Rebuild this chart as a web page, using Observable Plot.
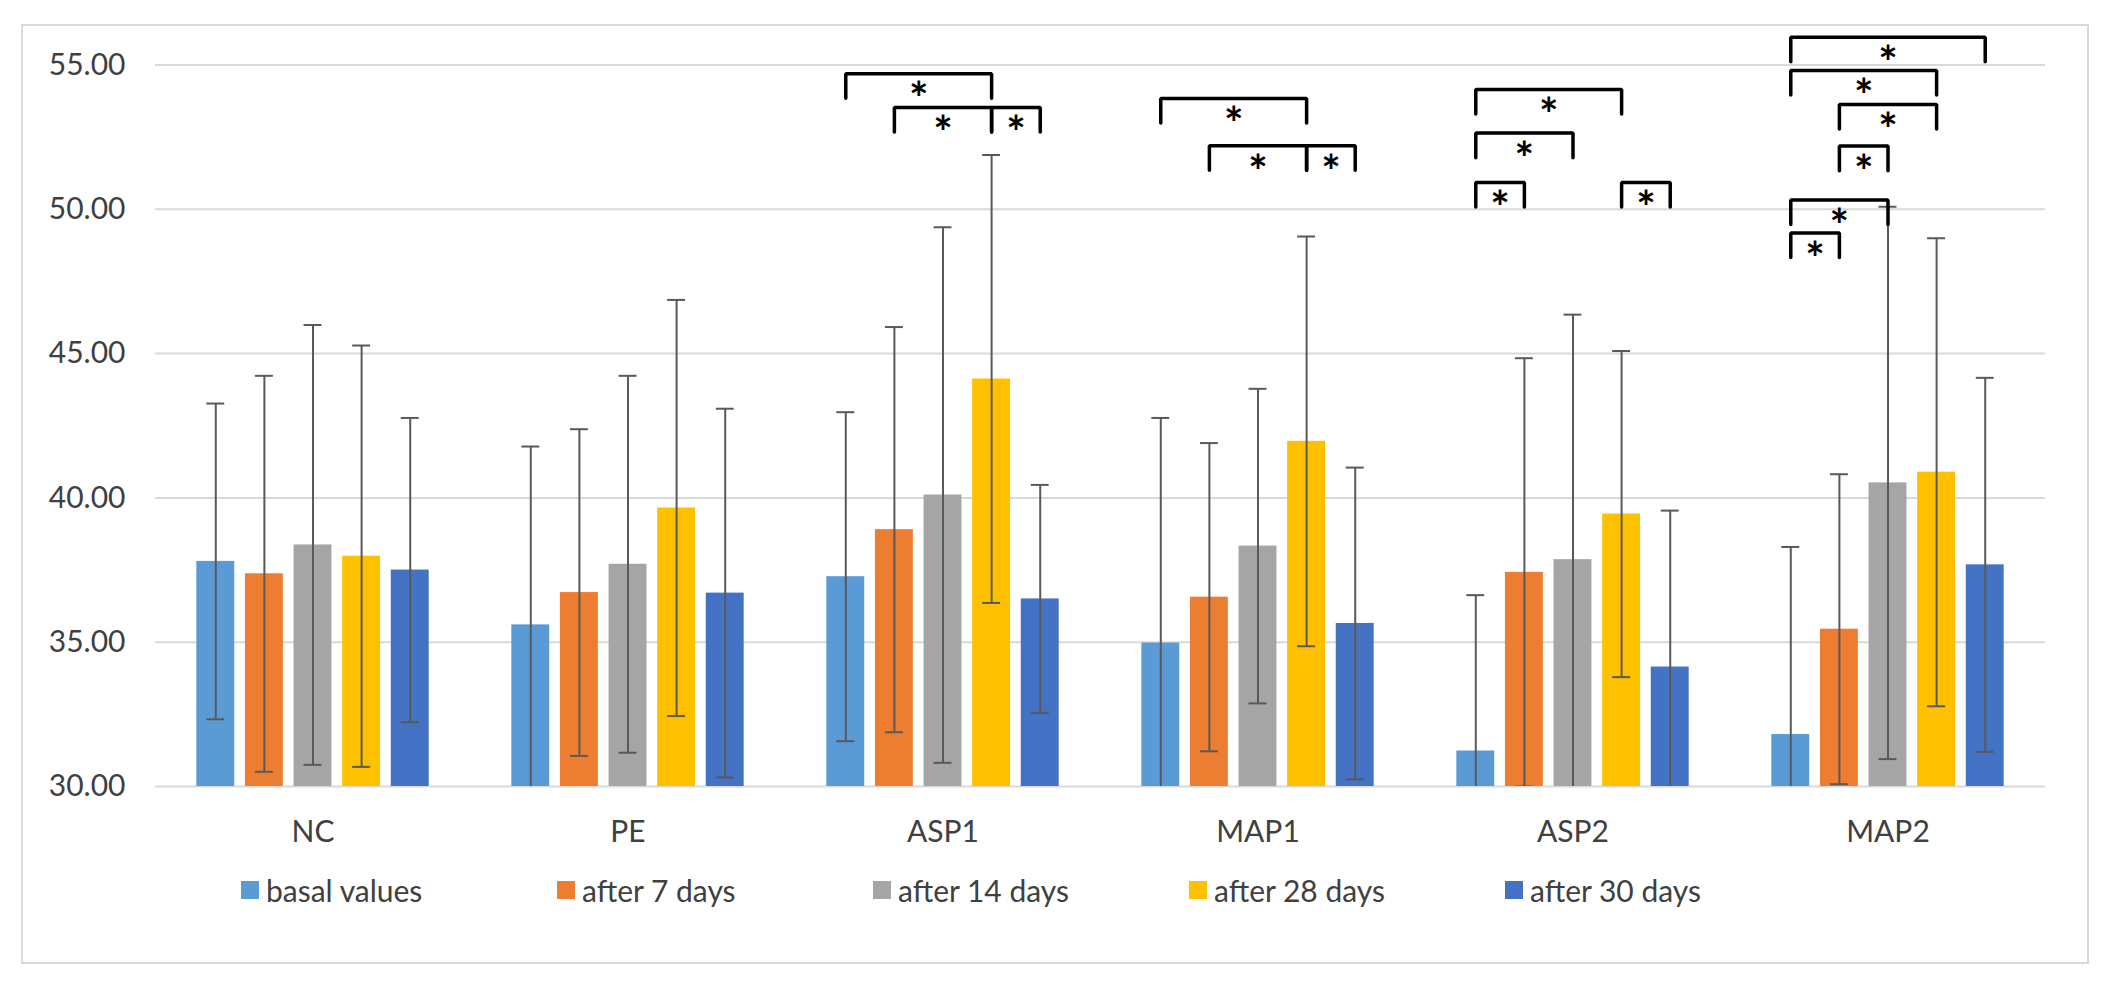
<!DOCTYPE html>
<html>
<head>
<meta charset="utf-8">
<script src="https://cdn.jsdelivr.net/npm/d3@7"></script>
<script src="https://cdn.jsdelivr.net/npm/@observablehq/plot@0.6"></script>
<style>
  html, body { margin: 0; padding: 0; background: #fff; }
  #wrap { position: relative; width: 2111px; height: 981px; overflow: hidden; font-family: Lato, "Open Sans", sans-serif; }
  #frame { position: absolute; left: 21px; top: 24px; width: 2068px; height: 940px; box-sizing: border-box; border: 2px solid #d9d9d9; }
  #chart { position: absolute; left: 0; top: 0; }
  #legend { position: absolute; left: 241px; top: 872px; display: flex; }
  .item { width: 316px; display: flex; align-items: center; font-size: 30px; line-height: 36px; color: #404040; white-space: nowrap; }
  .sw { width: 18px; height: 18px; margin-right: 7px; flex: none; }
</style>
</head>
<body>
<div id="wrap">
  <div id="frame"></div>
  <div id="chart"></div>
  <div id="legend"></div>
</div>
<script>
// ---- data ----
const groups = ["NC", "PE", "ASP1", "MAP1", "ASP2", "MAP2"];
const series = ["basal values", "after 7 days", "after 14 days", "after 28 days", "after 30 days"];
const colors = ["#5B9BD5", "#ED7D31", "#A5A5A5", "#FFC000", "#4472C4"];

const meanBasal = [37.80, 35.60, 37.27, 34.97, 31.23, 31.80];
const mean7     = [37.37, 36.72, 38.90, 36.56, 37.42, 35.45];
const mean14    = [38.37, 37.70, 40.10, 38.33, 37.86, 40.52];
const mean28    = [37.98, 39.65, 44.12, 41.96, 39.44, 40.89];
const mean30    = [37.50, 36.70, 36.50, 35.65, 34.14, 37.68];

const sdBasal = [5.47, 6.18, 5.70, 7.80, 5.40, 6.50];
const sd7     = [6.86, 5.66, 7.02, 5.34, 7.42, 5.37];
const sd14    = [7.62, 6.53, 9.28, 5.45, 8.49, 9.57];
const sd28    = [7.30, 7.21, 7.76, 7.10, 5.65, 8.11];
const sd30    = [5.27, 6.39, 3.95, 5.40, 5.42, 6.48];

const yTicks = [30, 35, 40, 45, 50, 55];

// significance brackets: group, from series, to series, level (y value of the bar)
const bracketGroup = ["ASP1", "ASP1", "ASP1", "MAP1", "MAP1", "MAP1", "ASP2", "ASP2", "ASP2", "ASP2",
                      "MAP2", "MAP2", "MAP2", "MAP2", "MAP2", "MAP2"];
const bracketFrom  = ["basal values", "after 7 days", "after 28 days",
                      "basal values", "after 7 days", "after 28 days",
                      "basal values", "basal values", "basal values", "after 28 days",
                      "basal values", "basal values", "after 7 days", "after 7 days", "basal values", "basal values"];
const bracketTo    = ["after 28 days", "after 28 days", "after 30 days",
                      "after 28 days", "after 28 days", "after 30 days",
                      "after 28 days", "after 14 days", "after 7 days", "after 30 days",
                      "after 30 days", "after 28 days", "after 28 days", "after 14 days", "after 14 days", "after 7 days"];
const bracketLevel = [54.70, 53.53, 53.53,
                      53.84, 52.20, 52.20,
                      54.15, 52.64, 50.93, 50.93,
                      55.96, 54.81, 53.63, 52.19, 50.32, 49.18];

// ---- build tables ----
const means = [meanBasal, mean7, mean14, mean28, mean30];
const sds = [sdBasal, sd7, sd14, sd28, sd30];
const rows = [];
groups.forEach((g, gi) => series.forEach((s, si) =>
  rows.push({group: g, series: s, mean: means[si][gi], sd: sds[si][gi]})));

const W = 2111, H = 860, ML = 155, MR = 66, MT = 64.5, MB = 74;
const PI = 0.22, PO = 0.85;
const step = (W - ML - MR) / groups.length / (series.length - PI + 2 * PO);
const LEG = 0.85;

const brackets = bracketGroup.map((g, i) => ({
  id: i, group: g, from: bracketFrom[i], to: bracketTo[i], level: bracketLevel[i],
  span: series.indexOf(bracketTo[i]) - series.indexOf(bracketFrom[i])
}));
const bracketPts = brackets.flatMap(b => [
  {id: b.id, group: b.group, series: b.from, y: b.level - LEG},
  {id: b.id, group: b.group, series: b.from, y: b.level},
  {id: b.id, group: b.group, series: b.to, y: b.level},
  {id: b.id, group: b.group, series: b.to, y: b.level - LEG}
]);
const asterisks = [1, 2, 3, 4].map(k => Plot.text(brackets.filter(b => b.span === k), {
  fx: "group", x: "from", y: "level", text: () => "*", dx: k * step / 2, dy: 27,
  fontSize: 46, fontWeight: "bold", fill: "#000", fontFamily: "Lato, sans-serif"
}));

const chart = Plot.plot({
  width: W, height: H,
  marginLeft: ML, marginRight: MR, marginTop: MT, marginBottom: MB,
  style: {fontFamily: "Lato, 'Open Sans', sans-serif", fontSize: "30px", color: "#404040", background: "transparent", overflow: "visible"},
  fx: {domain: groups, padding: 0, axis: "bottom", tickSize: 0, tickPadding: 34, label: null},
  x: {domain: series, paddingInner: PI, paddingOuter: PO, round: false, axis: null},
  y: {domain: [30, 55], ticks: yTicks, tickFormat: d3.format(".2f"), tickSize: 0, tickPadding: 30, label: null},
  color: {domain: series, range: colors},
  marks: [
    Plot.ruleY(yTicks, {stroke: "#d9d9d9", strokeWidth: 2}),
    Plot.barY(rows, {fx: "group", x: "series", y1: 30, y2: "mean", fill: "series"}),
    Plot.ruleX(rows, {fx: "group", x: "series", y1: d => d.mean - d.sd, y2: d => d.mean + d.sd,
      stroke: "#595959", strokeWidth: 2, clip: true}),
    Plot.tickY(rows, {fx: "group", x: "series", y: d => d.mean + d.sd, stroke: "#595959", strokeWidth: 2,
      insetLeft: 10, insetRight: 10, clip: true}),
    Plot.tickY(rows, {fx: "group", x: "series", y: d => d.mean - d.sd, stroke: "#595959", strokeWidth: 2,
      insetLeft: 10, insetRight: 10, clip: true}),
    Plot.line(bracketPts, {fx: "group", x: "series", y: "y", z: "id", stroke: "#000", strokeWidth: 3.5,
      strokeLinejoin: "miter", strokeLinecap: "round"}),
    ...asterisks
  ]
});
document.getElementById("chart").appendChild(chart);

// legend
const legend = document.getElementById("legend");
series.forEach((s, i) => {
  const it = document.createElement("div");
  it.className = "item";
  const sw = document.createElement("span");
  sw.className = "sw";
  sw.style.background = colors[i];
  const tx = document.createElement("span");
  tx.textContent = s;
  it.appendChild(sw); it.appendChild(tx);
  legend.appendChild(it);
});
</script>
</body>
</html>
